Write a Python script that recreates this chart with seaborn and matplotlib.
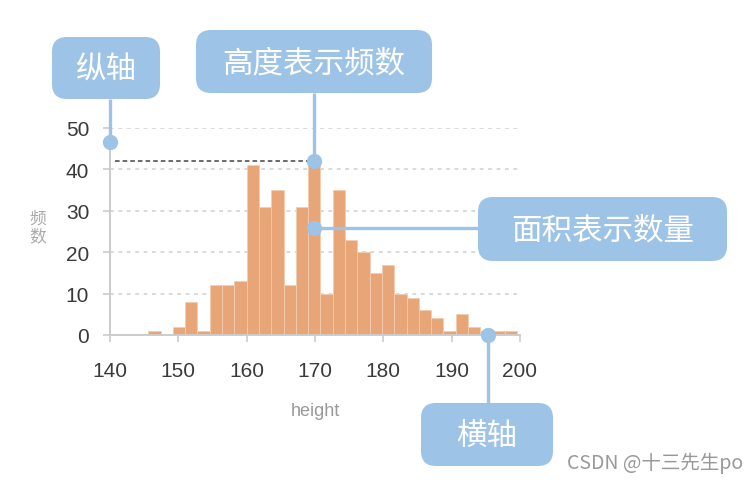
import numpy as np
import pandas as pd
import matplotlib
matplotlib.use("Agg")
import matplotlib.pyplot as plt
import seaborn as sns
from matplotlib.patches import FancyBboxPatch

# ---- data ----
bin_start = 145.6
bin_width = 1.8
counts = [1, 0, 2, 8, 1, 12, 12, 13, 41, 31, 35, 12, 31, 42, 10,
          35, 23, 20, 15, 17, 10, 9, 6, 4, 1, 5, 2, 1, 1, 1]
x_ticks = [140, 150, 160, 170, 180, 190, 200]
y_ticks = [0, 10, 20, 30, 40, 50]
x_label = "height"
y_label = "频数"
ref_level = 42

callout_texts = ["纵轴", "高度表示频数", "面积表示数量", "横轴"]
callout_points = [(140, 46.6), (169.9, 42), (169.9, 25.8), (195.3, 0)]

edges = bin_start + bin_width * np.arange(len(counts) + 1)
centers = (edges[:-1] + edges[1:]) / 2
df = pd.DataFrame({"height": centers, "count": counts})

sns.set_theme(style="white")
plt.rcParams["font.family"] = ["Liberation Sans", "Noto Sans CJK SC", "DejaVu Sans"]

W, H = 756, 485
fig = plt.figure(figsize=(W / 100, H / 100), dpi=100)
fig.patch.set_facecolor("white")

def fx(px):
    return px / W

def fy(py):
    return 1 - py / H

ax = fig.add_axes([fx(110), fy(336), fx(520) - fx(110), fy(129) - fy(336)])

sns.histplot(data=df, x="height", weights="count", bins=list(edges), ax=ax,
             color="#E8A577", alpha=1.0, edgecolor="#F3CDAF", linewidth=0.6)
for p in ax.patches:
    p.set_zorder(2)

ax.set_xlim(140, 200)
ax.set_ylim(0, 50)
ax.set_xticks(x_ticks)
ax.set_yticks(y_ticks)

ax.yaxis.grid(True, color="#cfcfcf", linestyle=(0, (2.5, 3)), linewidth=1.1, zorder=0)
ax.xaxis.grid(False)
ax.set_axisbelow(True)
for s in ["top", "right"]:
    ax.spines[s].set_visible(False)
for s in ["left", "bottom"]:
    ax.spines[s].set_color("#cccccc")
    ax.spines[s].set_linewidth(1.4)
ax.tick_params(axis="both", which="both", direction="out", length=5,
               width=1.2, color="#cccccc", labelcolor="#3a3a3a", labelsize=15)
ax.tick_params(axis="x", pad=14, bottom=True)
ax.tick_params(axis="y", pad=10, left=True)

ax.set_xlabel(x_label, fontsize=13, color="#999999")
ax.xaxis.set_label_coords(0.5, (336 - 412) / 207)
ax.xaxis.label.set_va("center")
ax.set_ylabel("\n".join(y_label), fontsize=12, color="#aaaaaa", rotation=0,
              linespacing=1.0, family=["Noto Sans CJK SC"])
ax.yaxis.set_label_coords((38 - 110) / 410, (336 - 228) / 207)
ax.yaxis.label.set_va("center")
ax.yaxis.label.set_ha("center")

# reference dashed line at the tallest bar
ax.plot([140.8, 169.6], [ref_level, ref_level], color="#444444",
        linestyle=(0, (3, 2)), linewidth=1.1, zorder=3, clip_on=False)

# overlay axes in pixel coordinates (y from top)
ov = fig.add_axes([0, 0, 1, 1], zorder=5)
ov.set_xlim(0, W)
ov.set_ylim(H, 0)
ov.axis("off")
ov.patch.set_alpha(0)

box_color = "#9DC3E6"
boxes = [(52, 38, 160, 100), (196, 31, 432, 94), (478, 198, 727, 262), (421, 404, 553, 467)]

def to_px(xd, yd):
    dx, dy = ax.transData.transform((xd, yd))
    return dx, H - dy

for text, (x0, y0, x1, y1), (xd, yd) in zip(callout_texts, boxes, callout_points):
    px, py = to_px(xd, yd)
    cx, cy = (x0 + x1) / 2, (y0 + y1) / 2
    if py > y1:
        ov.plot([px, px], [y1, py], color=box_color, lw=2.4, zorder=1, solid_capstyle="butt")
    elif py < y0:
        ov.plot([px, px], [py, y0], color=box_color, lw=2.4, zorder=1, solid_capstyle="butt")
    else:
        ov.plot([px, x0], [py, py], color=box_color, lw=2.4, zorder=1, solid_capstyle="butt")
    ov.plot([px], [py], marker="o", markersize=10, color=box_color, zorder=3)
    r = 15
    patch = FancyBboxPatch((x0 + r, y0 + r), (x1 - x0) - 2 * r, (y1 - y0) - 2 * r,
                           boxstyle=f"round,pad={r},rounding_size={r}",
                           facecolor=box_color, edgecolor="none", zorder=2)
    ov.add_patch(patch)
    ov.text(cx, cy + 1, text, color="white", fontsize=22, ha="center", va="center",
            family=["Noto Sans CJK SC"], zorder=4)

ov.text(567, 463, "CSDN @十三先生po", color="#999999", fontsize=14,
        ha="left", va="center", family=["Noto Sans CJK SC"])

fig.savefig("out.png", dpi=100)
